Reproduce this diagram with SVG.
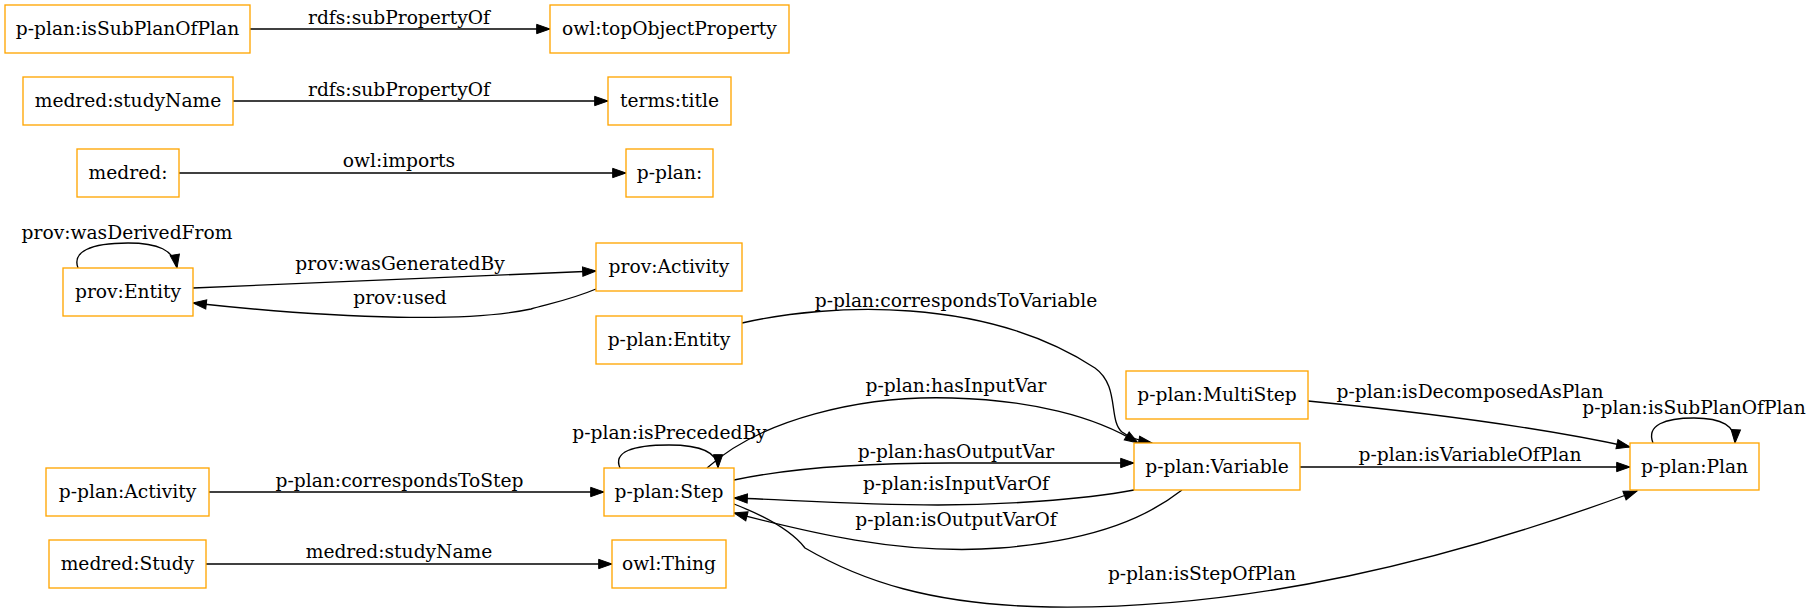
<svg xmlns="http://www.w3.org/2000/svg" width="1812" height="611" viewBox="0 0 1812 611">
<style>
.n rect{fill:#fff;stroke:#ffa500;stroke-width:1.33}
text{font-family:"DejaVu Serif","Liberation Serif",serif;font-size:18.67px;fill:#000;text-anchor:middle}
.e path{fill:none;stroke:#000;stroke-width:1.33;marker-end:url(#ah)}
</style>
<defs>
<marker id="ah" markerUnits="userSpaceOnUse" markerWidth="14" markerHeight="10" refX="13.33" refY="4.67" orient="auto" overflow="visible">
<path d="M0,0 L13.33,4.67 L0,9.33 z" fill="#000" stroke="#000" stroke-width="1"/>
</marker>
</defs>
<rect width="1812" height="611" fill="#fff"/>
<g id="connectors" class="e">
<path d="M250,29 L550,29"/>
<text x="399" y="24">rdfs:subPropertyOf</text>
<path d="M233,101 L608,101"/>
<text x="399" y="96">rdfs:subPropertyOf</text>
<path d="M179,173 L626,173"/>
<text x="399" y="167">owl:imports</text>
<path d="M78,268 C72,252 90,243 128,243 C158,243 174,250 177,268"/>
<text x="127" y="239">prov:wasDerivedFrom</text>
<path d="M193,288 L596,271"/>
<text x="400" y="270">prov:wasGeneratedBy</text>
<path d="M596,289 C570,300 548,304 531,309 C470,322 350,320 193,303"/>
<text x="400" y="304">prov:used</text>
<path d="M742,323 C830,303 985,296 1095,368 C1120,386 1108,420 1122,432 C1130,438 1140,441 1152,443"/>
<text x="956" y="307">p-plan:correspondsToVariable</text>
<path d="M707,468 C760,420 860,395 952,398 C1030,400 1095,416 1138,443"/>
<text x="956" y="392">p-plan:hasInputVar</text>
<path d="M734,480 C790,468 860,463 950,463 L1134,463"/>
<text x="956" y="458">p-plan:hasOutputVar</text>
<path d="M1134,490 C1080,500 1000,505 938,505 C860,505 790,500 734,498"/>
<text x="956" y="490">p-plan:isInputVarOf</text>
<path d="M1182,490 C1150,515 1100,540 1000,548 C900,556 800,530 734,513"/>
<text x="956" y="526">p-plan:isOutputVarOf</text>
<path d="M734,504 C775,520 795,535 805,548 C860,580 930,605 1050,607 C1250,610 1450,560 1637,491"/>
<text x="1202" y="580">p-plan:isStepOfPlan</text>
<path d="M1308,401 C1400,410 1530,425 1630,447"/>
<text x="1470" y="398">p-plan:isDecomposedAsPlan</text>
<path d="M1300,467 L1630,467"/>
<text x="1470" y="461">p-plan:isVariableOfPlan</text>
<path d="M1653,443 C1646,425 1665,418 1694,418 C1722,418 1736,426 1735,443"/>
<text x="1694" y="414">p-plan:isSubPlanOfPlan</text>
<path d="M620,468 C613,452 632,445 669,445 C700,445 718,452 718,468"/>
<text x="669.5" y="439">p-plan:isPrecededBy</text>
<path d="M209,492 L604,492"/>
<text x="399.5" y="487">p-plan:correspondsToStep</text>
<path d="M206,564 L612,564"/>
<text x="399" y="558">medred:studyName</text>
</g>
<g id="n1" class="n"><rect x="5" y="5" width="245" height="48"/><text x="127.5" y="35">p-plan:isSubPlanOfPlan</text></g>
<g id="n2" class="n"><rect x="550" y="5" width="239" height="48"/><text x="669.5" y="35">owl:topObjectProperty</text></g>
<g id="n3" class="n"><rect x="23" y="77" width="210" height="48"/><text x="128" y="107">medred:studyName</text></g>
<g id="n4" class="n"><rect x="608" y="77" width="123" height="48"/><text x="669.5" y="107">terms:title</text></g>
<g id="n5" class="n"><rect x="77" y="149" width="102" height="48"/><text x="128" y="179">medred:</text></g>
<g id="n6" class="n"><rect x="626" y="149" width="87" height="48"/><text x="669.5" y="179">p-plan:</text></g>
<g id="n7" class="n"><rect x="63" y="268" width="130" height="48"/><text x="128" y="298">prov:Entity</text></g>
<g id="n8" class="n"><rect x="596" y="243" width="146" height="48"/><text x="669" y="273">prov:Activity</text></g>
<g id="n9" class="n"><rect x="596" y="316" width="146" height="48"/><text x="669" y="346">p-plan:Entity</text></g>
<g id="n10" class="n"><rect x="1126" y="371" width="182" height="48"/><text x="1217" y="401">p-plan:MultiStep</text></g>
<g id="n11" class="n"><rect x="1134" y="443" width="166" height="47"/><text x="1217" y="473">p-plan:Variable</text></g>
<g id="n12" class="n"><rect x="1630" y="443" width="129" height="47"/><text x="1694.5" y="473">p-plan:Plan</text></g>
<g id="n13" class="n"><rect x="46" y="468" width="163" height="48"/><text x="127.5" y="498">p-plan:Activity</text></g>
<g id="n14" class="n"><rect x="604" y="468" width="130" height="48"/><text x="669" y="498">p-plan:Step</text></g>
<g id="n15" class="n"><rect x="49" y="540" width="157" height="48"/><text x="127.5" y="570">medred:Study</text></g>
<g id="n16" class="n"><rect x="612" y="540" width="114" height="48"/><text x="669" y="570">owl:Thing</text></g>
</svg>
